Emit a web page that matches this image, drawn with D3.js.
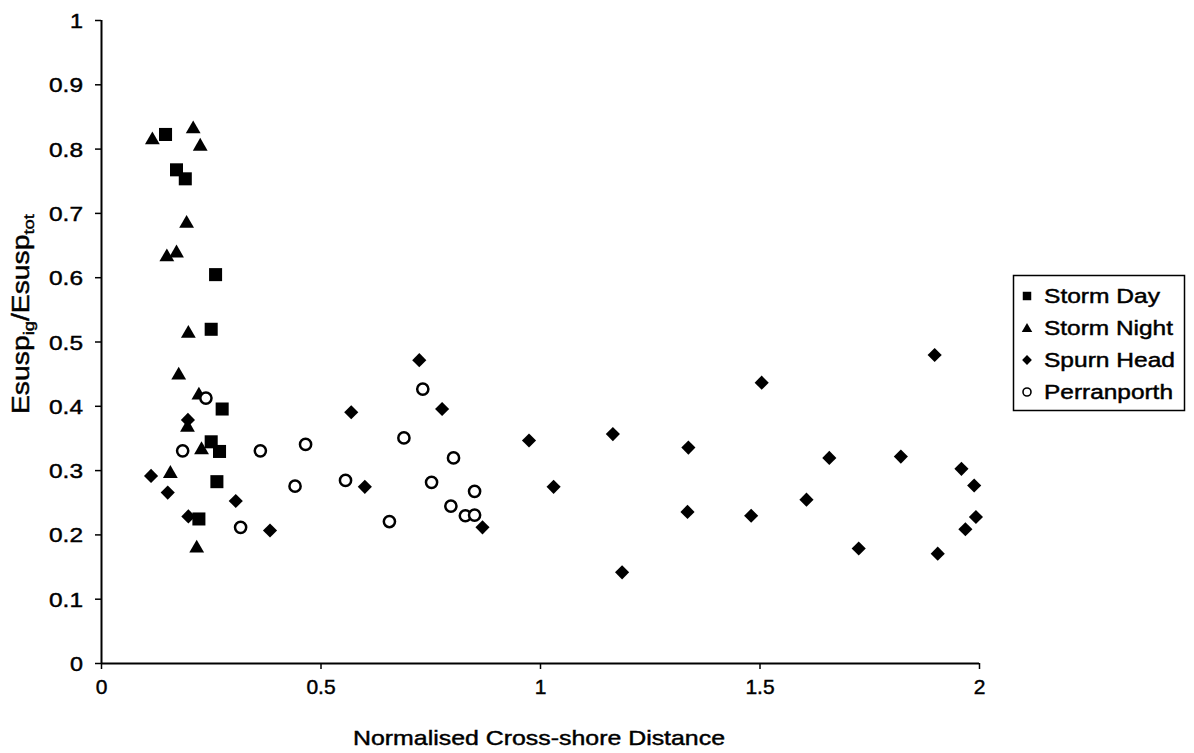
<!DOCTYPE html>
<html>
<head>
<meta charset="utf-8">
<script src="https://cdn.jsdelivr.net/npm/d3@7/dist/d3.min.js"></script>
<style>
  html, body { margin: 0; padding: 0; background: #fff; }
  svg { display: block; }
  text { font-family: "Liberation Sans", Arial, sans-serif; fill: #000; stroke: #000; stroke-width: 0.45px; }
</style>
</head>
<body>
<svg id="chart" width="1194" height="753"></svg>
<script>
// ---- Data ----
const stormDayX = [0.147, 0.172, 0.192, 0.261, 0.251, 0.276, 0.251, 0.270, 0.264, 0.223];
const stormDayY = [0.822, 0.767, 0.753, 0.604, 0.519, 0.395, 0.344, 0.329, 0.282, 0.224];

const stormNightX = [0.117, 0.210, 0.226, 0.195, 0.150, 0.172, 0.199, 0.177, 0.223, 0.197, 0.229, 0.158, 0.218];
const stormNightY = [0.815, 0.832, 0.805, 0.685, 0.633, 0.639, 0.514, 0.449, 0.418, 0.368, 0.333, 0.296, 0.180];

const spurnHeadX = [0.114, 0.152, 0.199, 0.198, 0.307, 0.385, 0.570, 0.601, 0.725, 0.777, 0.869, 0.975, 1.031, 1.166, 1.187, 1.338, 1.336, 1.481, 1.505, 1.607, 1.659, 1.726, 1.822, 1.899, 1.906, 1.960, 1.969, 1.989, 1.993];
const spurnHeadY = [0.291, 0.265, 0.228, 0.378, 0.252, 0.206, 0.390, 0.274, 0.471, 0.395, 0.211, 0.346, 0.274, 0.356, 0.141, 0.335, 0.235, 0.229, 0.436, 0.254, 0.319, 0.178, 0.321, 0.479, 0.170, 0.302, 0.208, 0.276, 0.227];

const perranporthX = [0.186, 0.239, 0.318, 0.363, 0.442, 0.466, 0.557, 0.657, 0.690, 0.733, 0.753, 0.797, 0.803, 0.830, 0.851, 0.851];
const perranporthY = [0.330, 0.412, 0.211, 0.330, 0.275, 0.340, 0.284, 0.220, 0.350, 0.426, 0.281, 0.244, 0.319, 0.229, 0.230, 0.267];

const seriesNames = ["Storm Day", "Storm Night", "Spurn Head", "Perranporth"];
const xTicks = [0, 0.5, 1, 1.5, 2];
const xTickLabels = ["0", "0.5", "1", "1.5", "2"];
const yTicks = [0, 0.1, 0.2, 0.3, 0.4, 0.5, 0.6, 0.7, 0.8, 0.9, 1];
const yTickLabels = ["0", "0.1", "0.2", "0.3", "0.4", "0.5", "0.6", "0.7", "0.8", "0.9", "1"];
const xTitle = "Normalised Cross-shore Distance";

// ---- Layout ----
const svg = d3.select("#chart");
const x = d3.scaleLinear().domain([0, 2]).range([101, 979]);
const y = d3.scaleLinear().domain([0, 1]).range([663, 20]);

// Axes
const xAxis = d3.axisBottom(x).tickValues(xTicks).tickFormat((d, i) => xTickLabels[i]).tickSize(6).tickPadding(10);
const yAxis = d3.axisLeft(y).tickValues(yTicks).tickFormat((d, i) => yTickLabels[i]).tickSize(6).tickPadding(12);

const gx = svg.append("g").attr("transform", `translate(0,${y(0)})`).call(xAxis);
const gy = svg.append("g").attr("transform", `translate(${x(0)},0)`).call(yAxis);

[gx, gy].forEach(g => {
  g.select(".domain").attr("stroke", "#000").attr("stroke-width", 2);
  g.selectAll(".tick line").attr("stroke", "#000").attr("stroke-width", 1.5);
  g.selectAll(".tick text").attr("font-size", 21).attr("font-family", "Liberation Sans, Arial, sans-serif").attr("fill", "#000");
});
gx.select(".domain").attr("d", `M${x(0)},0.5H${x(2)}`);
gy.select(".domain").attr("d", `M0.5,${y(0)}V${y(1)}`);
gx.selectAll(".tick text").attr("dy", "0.71em");
gy.selectAll(".tick text").attr("dy", "0.36em").each(function () {
  const t = d3.select(this);
  const n = t.text().length;
  t.attr("textLength", n === 1 ? 13 : 34).attr("lengthAdjust", "spacingAndGlyphs");
});

// Axis titles
svg.append("text")
  .attr("x", 539).attr("y", 745)
  .attr("text-anchor", "middle")
  .attr("font-size", 21)
  .attr("textLength", 372).attr("lengthAdjust", "spacingAndGlyphs")
  .text(xTitle);

const yt = svg.append("text")
  .attr("transform", "translate(29,314) rotate(-90)")
  .attr("text-anchor", "middle")
  .attr("font-size", 23)
  .attr("textLength", 200).attr("lengthAdjust", "spacingAndGlyphs");
yt.append("tspan").text("Esusp");
yt.append("tspan").attr("font-size", 15).attr("dy", 5).text("ig");
yt.append("tspan").attr("dy", -5).text("/Esusp");
yt.append("tspan").attr("font-size", 15).attr("dy", 5).text("tot");

// ---- Markers ----
const plot = svg.append("g");
const mk = {
  square: d3.symbol().type(d3.symbolSquare).size(170),
  triangle: d3.symbol().type(d3.symbolTriangle).size(95),
  diamond: d3.symbol().type(d3.symbolSquare).size(100)
};

function toPts(xs, ys) { return xs.map((v, i) => [v, ys[i]]); }

plot.append("g").selectAll("path").data(toPts(stormDayX, stormDayY)).join("path")
  .attr("d", mk.square()).attr("fill", "#000")
  .attr("transform", d => `translate(${x(d[0])},${y(d[1])})`);

plot.append("g").selectAll("path").data(toPts(stormNightX, stormNightY)).join("path")
  .attr("d", mk.triangle()).attr("fill", "#000")
  .attr("transform", d => `translate(${x(d[0])},${y(d[1]) + 1})`);

plot.append("g").selectAll("path").data(toPts(spurnHeadX, spurnHeadY)).join("path")
  .attr("d", mk.diamond()).attr("fill", "#000")
  .attr("transform", d => `translate(${x(d[0])},${y(d[1])}) rotate(45)`);

plot.append("g").selectAll("circle").data(toPts(perranporthX, perranporthY)).join("circle")
  .attr("cx", d => x(d[0])).attr("cy", d => y(d[1])).attr("r", 5.6)
  .attr("fill", "#fff").attr("stroke", "#000").attr("stroke-width", 2.5);

// ---- Legend ----
const lg = svg.append("g");
lg.append("rect").attr("x", 1013.5).attr("y", 275.5).attr("width", 171).attr("height", 135)
  .attr("fill", "#fff").attr("stroke", "#000").attr("stroke-width", 1.5);
const rowY = d3.scalePoint().domain(seriesNames).range([296, 392]);
const legSym = [
  g => g.append("path").attr("d", d3.symbol().type(d3.symbolSquare).size(72)()).attr("fill", "#000"),
  g => g.append("path").attr("d", d3.symbol().type(d3.symbolTriangle).size(48)()).attr("fill", "#000").attr("transform", "translate(0,1)"),
  g => g.append("path").attr("d", d3.symbol().type(d3.symbolSquare).size(48)()).attr("fill", "#000").attr("transform", "rotate(45)"),
  g => g.append("circle").attr("r", 4).attr("fill", "#fff").attr("stroke", "#000").attr("stroke-width", 1.6)
];
const legLen = [116, 129, 131, 129];
seriesNames.forEach((name, i) => {
  const g = lg.append("g").attr("transform", `translate(1027,${rowY(name)})`);
  legSym[i](g);
  lg.append("text").attr("x", 1044).attr("y", rowY(name) + 7)
    .attr("font-size", 20)
    .attr("textLength", legLen[i]).attr("lengthAdjust", "spacingAndGlyphs")
    .text(name);
});
</script>
</body>
</html>
